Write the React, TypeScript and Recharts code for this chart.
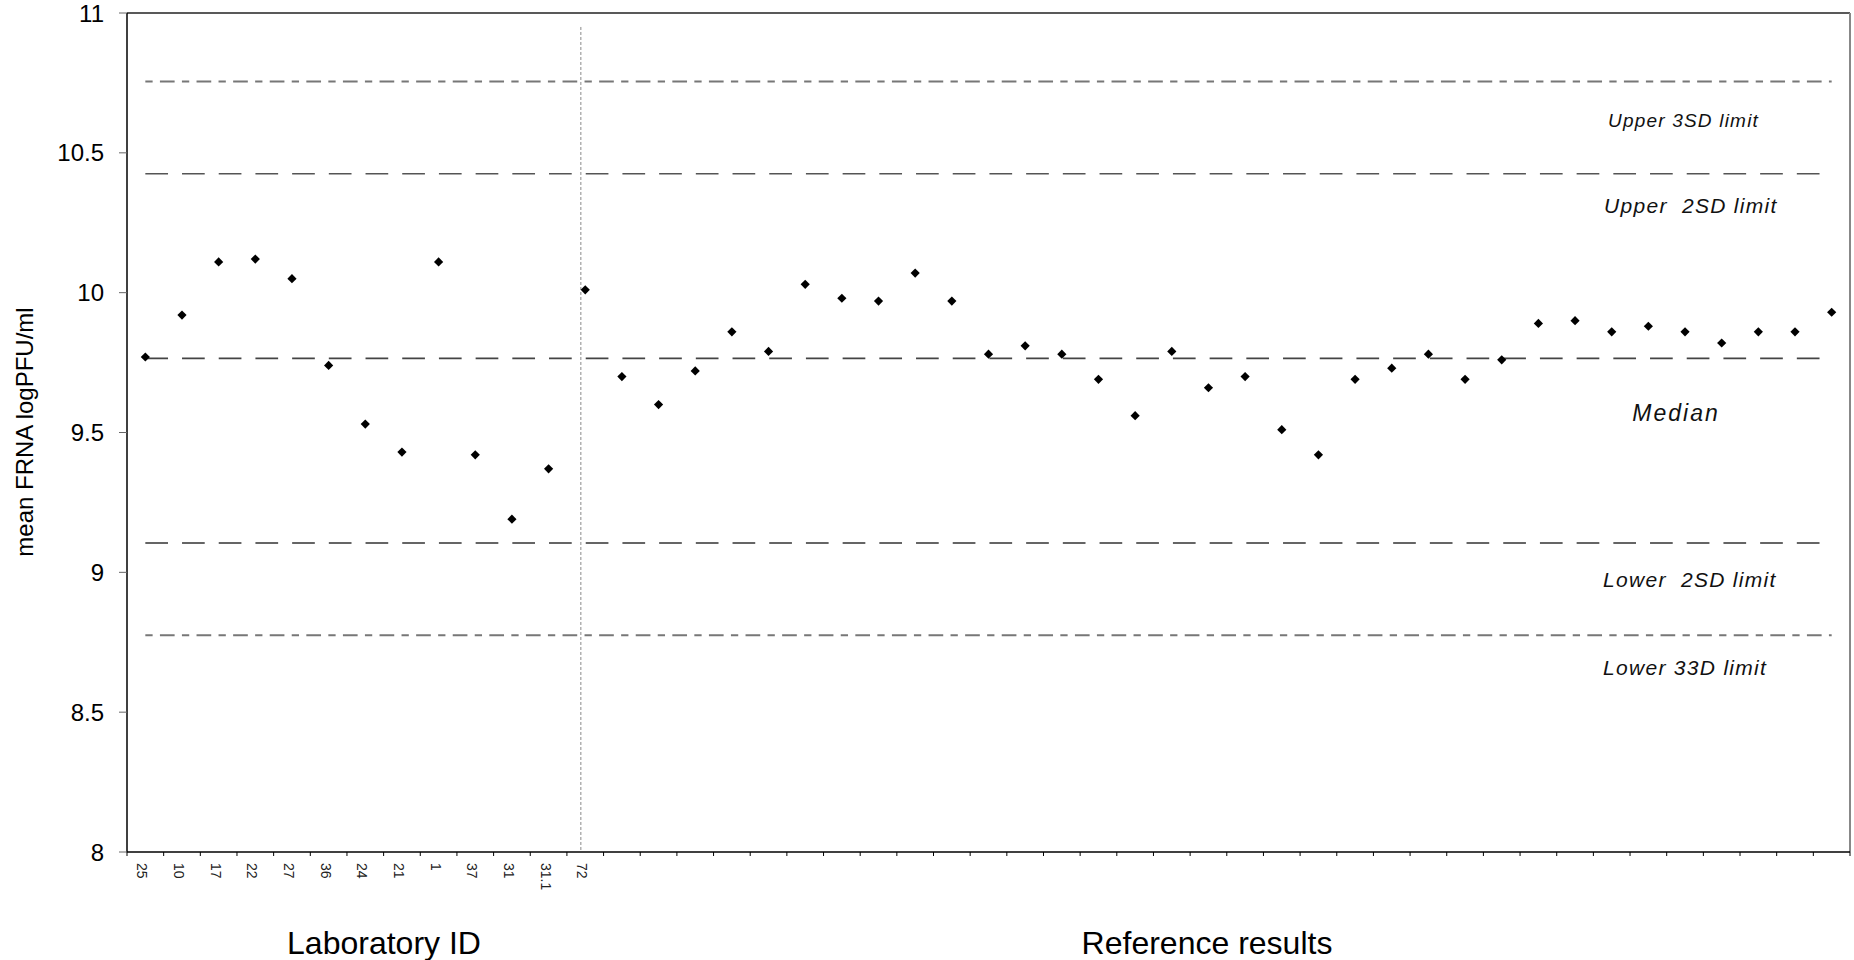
import React from 'react'
import {
  ScatterChart,
  Scatter,
  XAxis,
  YAxis,
  ReferenceLine,
} from 'recharts'

// laboratory ids shown under the first categories, the rest are reference results
const labIds = ['25', '10', '17', '22', '27', '36', '24', '21', '1', '37', '31', '31.1', '72']

// mean FRNA logPFU/ml per participant, in axis order
const meanLogPfu = [
  9.77, 9.92, 10.11, 10.12, 10.05, 9.74, 9.53, 9.43, 10.11, 9.42, 9.19, 9.37, 10.01,
  9.7, 9.6, 9.72, 9.86, 9.79, 10.03, 9.98, 9.97, 10.07, 9.97, 9.78, 9.81, 9.78, 9.69,
  9.56, 9.79, 9.66, 9.7, 9.51, 9.42, 9.69, 9.73, 9.78, 9.69, 9.76, 9.89, 9.9, 9.86,
  9.88, 9.86, 9.82, 9.86, 9.86, 9.93,
]

const yTicks = [8, 8.5, 9, 9.5, 10, 10.5, 11]

const median = 9.765
const upper2SD = 10.425
const lower2SD = 9.105
const upper3SD = 10.755
const lower3SD = 8.775
const dividerX = 12.88

const W = 1854
const H = 960
const Y_AXIS_W = 127
const MARGIN = { top: 13, right: 4, left: 0, bottom: 0 }
const X_AXIS_H = 108
const FONT = '"Liberation Sans", Arial, sans-serif'

const data = meanLogPfu.map((value, i) => ({ idx: i + 1, value }))
const n = data.length
const halfBand = (W - Y_AXIS_W - MARGIN.right) / n / 2

function Diamond(props: any) {
  const { cx, cy } = props
  const r = 4.6
  return (
    <path
      d={`M${cx},${cy - r}L${cx + r},${cy}L${cx},${cy + r}L${cx - r},${cy}Z`}
      fill="#000"
    />
  )
}

function CategoryTick(props: any) {
  const { x, y, payload, index } = props
  const label = labIds[payload.value - 1] ?? ''
  const lx = x - 3
  const ly = y + 11
  return (
    <g>
      <line x1={x - halfBand} x2={x - halfBand} y1={y} y2={y + 4} stroke="#000" strokeWidth={1} />
      {index === n - 1 && (
        <line x1={x + halfBand} x2={x + halfBand} y1={y} y2={y + 4} stroke="#000" strokeWidth={1} />
      )}
      {label && (
        <text
          x={lx}
          y={ly}
          transform={`rotate(90 ${lx} ${ly})`}
          textAnchor="start"
          dominantBaseline="central"
          fontSize={14}
          fontFamily={FONT}
          fill="#222"
        >
          {label}
        </text>
      )}
    </g>
  )
}

const limitLines = [
  { y: upper3SD, stroke: '#777', dash: '7.3 7.3 14.7 7.3', width: 2 },
  { y: upper2SD, stroke: '#555', dash: '22.7 14', width: 1.6 },
  { y: median, stroke: '#444', dash: '22.7 14', width: 1.6 },
  { y: lower2SD, stroke: '#333', dash: '22.7 14', width: 1.6 },
  { y: lower3SD, stroke: '#777', dash: '7.3 7.3 14.7 7.3', width: 2 },
]

export default function App() {
  const italic = { fontFamily: FONT, fontStyle: 'italic', fill: '#111' } as const
  return (
    <div style={{ position: 'absolute', left: 0, top: 0, width: W, height: H, background: '#fff' }}>
      <ScatterChart width={W} height={H} margin={MARGIN}>
        <XAxis
          type="number"
          dataKey="idx"
          domain={[0.5, n + 0.5]}
          ticks={data.map((d) => d.idx)}
          interval={0}
          height={X_AXIS_H}
          tickLine={false}
          tickSize={0}
          tickMargin={0}
          axisLine={{ stroke: '#000', strokeWidth: 1.5 }}
          tick={<CategoryTick />}
        />
        <YAxis
          type="number"
          dataKey="value"
          domain={[8, 11]}
          ticks={yTicks}
          interval={0}
          width={Y_AXIS_W}
          tickSize={8}
          tickMargin={15}
          tickLine={{ stroke: '#666' }}
          axisLine={{ stroke: '#000', strokeWidth: 1.5 }}
          tick={{ fill: '#000', fontSize: 24, fontFamily: FONT }}
        />
        <ReferenceLine y={11} stroke="#222" strokeWidth={1.5} />
        <ReferenceLine x={n + 0.5} stroke="#888" strokeWidth={2} />
        <ReferenceLine
          segment={[{ x: dividerX, y: 10.95 }, { x: dividerX, y: 8 }]}
          stroke="#888"
          strokeWidth={1}
          strokeDasharray="3 2"
        />
        {limitLines.map((l) => (
          <ReferenceLine
            key={l.y}
            segment={[{ x: 1, y: l.y }, { x: n, y: l.y }]}
            stroke={l.stroke}
            strokeWidth={l.width}
            strokeDasharray={l.dash}
          />
        ))}
        <Scatter data={data} shape={<Diamond />} isAnimationActive={false} />
      </ScatterChart>
      <svg
        width={W}
        height={H}
        style={{ position: 'absolute', left: 0, top: 0, pointerEvents: 'none' }}
      >
        <text
          x={24}
          y={432}
          transform="rotate(-90 24 432)"
          textAnchor="middle"
          dominantBaseline="central"
          fontSize={24}
          fontFamily={FONT}
          fill="#000"
        >
          mean FRNA logPFU/ml
        </text>
        <text x={384} y={954} textAnchor="middle" fontSize={32} fontFamily={FONT} fill="#000">
          Laboratory ID
        </text>
        <text x={1207} y={954} textAnchor="middle" fontSize={32} fontFamily={FONT} fill="#000">
          Reference results
        </text>
        <text x={1608} y={127} fontSize={19} letterSpacing={1.2} {...italic}>
          Upper 3SD limit
        </text>
        <text x={1604} y={213} fontSize={21} letterSpacing={1.3} xmlSpace="preserve" {...italic}>
          Upper  2SD limit
        </text>
        <text x={1676} y={421} textAnchor="middle" fontSize={23} letterSpacing={2} {...italic}>
          Median
        </text>
        <text x={1603} y={587} fontSize={21} letterSpacing={1.3} xmlSpace="preserve" {...italic}>
          Lower  2SD limit
        </text>
        <text x={1603} y={675} fontSize={21} letterSpacing={1.3} {...italic}>
          Lower 33D limit
        </text>
      </svg>
    </div>
  )
}
